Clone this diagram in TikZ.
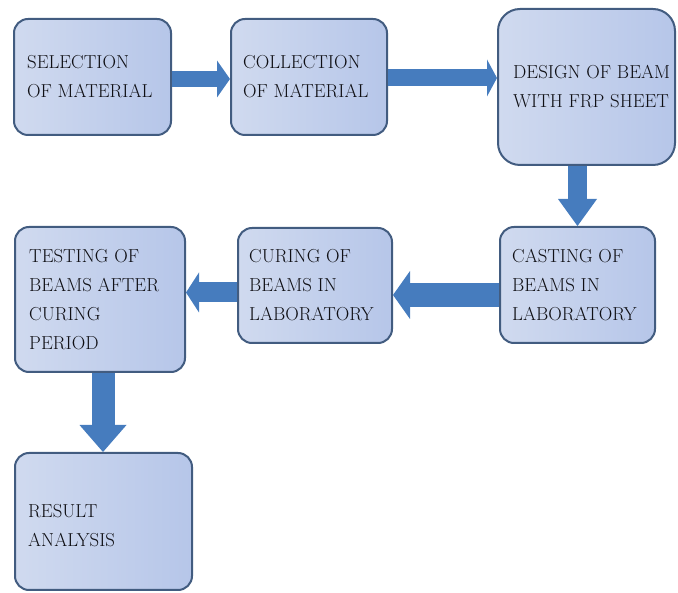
\documentclass[tikz,border=0pt]{standalone}
\usetikzlibrary{arrows.meta}
\definecolor{boxborder}{RGB}{66,92,128}
\definecolor{boxlight}{RGB}{208,218,239}
\definecolor{boxdark}{RGB}{182,198,233}
\definecolor{arrowblue}{RGB}{70,124,190}
\definecolor{txt}{RGB}{15,15,20}
\begin{document}
\begin{tikzpicture}[x=1pt,y=-1pt,
  box/.style={draw=boxborder, line width=2pt, rounded corners=14pt,
    left color=boxlight, right color=boxdark, inner sep=0pt},
  lbl/.style={anchor=west, align=left, inner sep=0pt, text=txt,
    font=\fontsize{18.8pt}{29pt}\selectfont},
  flow/.style={draw=arrowblue, line width=#1}
]
\useasboundingbox (0,0) rectangle (678,593);

% boxes
\node[box, minimum width=157pt, minimum height=116pt] (b1) at (92.5,77) {};
\node[box, minimum width=156pt, minimum height=116pt] (b2) at (309,77) {};
\node[box, minimum width=177pt, minimum height=156pt, rounded corners=22pt] (b3) at (586.5,87) {};
\node[box, minimum width=155pt, minimum height=116pt] (b4) at (577.5,285) {};
\node[box, minimum width=154pt, minimum height=115pt] (b5) at (315,285.5) {};
\node[box, minimum width=170pt, minimum height=145pt] (b6) at (100,299.5) {};
\node[box, minimum width=177pt, minimum height=137pt] (b7) at (103.5,521.5) {};

% labels
\node[lbl] (t1) at ([xshift=14pt]b1.west) {SELECTION\\OF MATERIAL};
\node[lbl] (t2) at ([xshift=13pt]b2.west) {COLLECTION\\OF MATERIAL};
\node[lbl] (t3) at ([xshift=16pt]b3.west) {DESIGN OF BEAM\\WITH FRP SHEET};
\node[lbl] (t4) at ([xshift=13pt]b4.west) {CASTING OF\\BEAMS IN\\LABORATORY};
\node[lbl] (t5) at ([xshift=12pt]b5.west) {CURING OF\\BEAMS IN\\LABORATORY};
\node[lbl] (t6) at ([xshift=15pt]b6.west) {TESTING OF\\BEAMS AFTER\\CURING\\PERIOD};
\node[lbl] (t7) at ([xshift=14pt,yshift=-4pt]b7.west) {RESULT\\ANALYSIS};

% block arrows
\draw[flow=16pt, -{Triangle[length=13pt,width=37pt,line width=0pt]}]
  ([yshift=-2pt]b1.east) -- ([yshift=-2pt]b1.east -| b2.west);
\draw[flow=17pt, -{Triangle[length=10pt,width=37pt,line width=0pt]}]
  ([yshift=-1pt]b2.east) -- ([yshift=-1pt]b2.east -| b3.west);
\draw[flow=19pt, -{Triangle[length=27pt,width=39pt,line width=0pt]}]
  (b3.south -| b4.north) -- (b4.north);
\draw[flow=24pt, -{Triangle[length=17pt,width=48pt,line width=0pt]}]
  ([yshift=-10pt]b4.west) -- ([yshift=-10pt]b4.west -| b5.east);
\draw[flow=20pt, -{Triangle[length=13pt,width=40pt,line width=0pt]}]
  ([yshift=-7pt]b5.west) -- ([yshift=-7pt]b5.west -| b6.east);
\draw[flow=23pt, -{Triangle[length=27pt,width=47pt,line width=0pt]}]
  ([xshift=3pt]b6.south) -- ([xshift=3pt]b6.south |- b7.north);
\end{tikzpicture}
\end{document}
